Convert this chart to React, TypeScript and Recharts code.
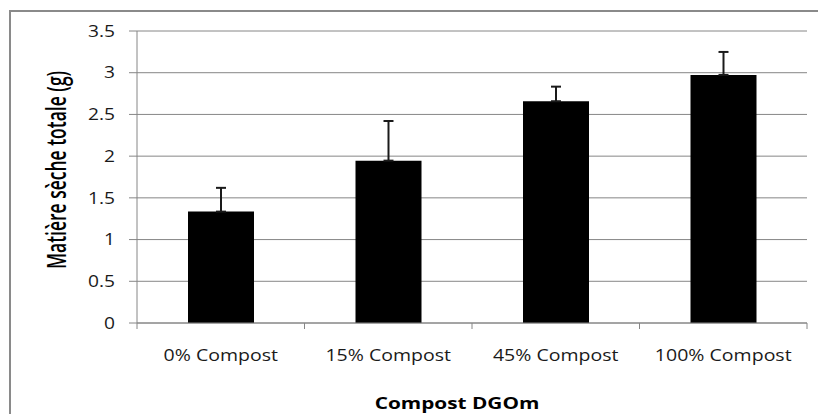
import React from 'react';
import { BarChart, Bar, XAxis, YAxis, CartesianGrid, ErrorBar } from 'recharts';

const categories = ['0% Compost', '15% Compost', '45% Compost', '100% Compost'];
const means = [1.335, 1.946, 2.658, 2.974];
const errors = [0.285, 0.475, 0.175, 0.275];
const yTicks = [0, 0.5, 1, 1.5, 2, 2.5, 3, 3.5];
const yTitle = 'Matière sèche totale (g)';
const xTitle = 'Compost DGOm';

const data = categories.map((c, i) => ({ name: c, value: means[i], err: [0, errors[i]] }));

const FONT = '"Open Sans", "DejaVu Sans", sans-serif';
const GRID = '#868686';
const W = 818;
const H = 414;

const XTick = (props: any) => {
  const { x, y, payload, index, width } = props;
  const n = categories.length;
  const half = typeof payload.offset === 'number' && payload.offset > 0 ? payload.offset : width / n / 2;
  return (
    <g>
      <line x1={x - half} x2={x - half} y1={y - 6} y2={y} stroke={GRID} strokeWidth={1} />
      {index === n - 1 && <line x1={x + half} x2={x + half} y1={y - 6} y2={y} stroke={GRID} strokeWidth={1} />}
      <text
        transform={`translate(${x},${y + 32}) scale(1.26,1)`}
        textAnchor="middle"
        fontSize={15.5}
        fontFamily={FONT}
        fill="#1a1a1a"
      >
        {payload.value}
      </text>
    </g>
  );
};

const YTick = (props: any) => {
  const { x, y, payload } = props;
  return (
    <text
      transform={`translate(${x},${y}) scale(1.2,1)`}
      textAnchor="end"
      dy="0.36em"
      fontSize={16}
      fontFamily={FONT}
      fill="#1a1a1a"
    >
      {payload.value}
    </text>
  );
};

export default function App() {
  return (
    <div style={{ position: 'absolute', left: 0, top: 0, width: W, height: H, background: '#fff' }}>
      <BarChart width={W} height={H} data={data} margin={{ top: 31, right: 11, bottom: 0, left: 0 }} barSize={66}>
        <CartesianGrid vertical={false} stroke={GRID} strokeWidth={1} />
        <XAxis
          dataKey="name"
          height={91}
          tickLine={false}
          tickSize={6}
          tickMargin={0}
          axisLine={{ stroke: GRID, strokeWidth: 1 }}
          tick={<XTick />}
          interval={0}
        />
        <YAxis
          width={137}
          domain={[0, 3.5]}
          ticks={yTicks}
          tickSize={8}
          tickMargin={14}
          tickLine={{ stroke: GRID }}
          axisLine={{ stroke: GRID, strokeWidth: 1 }}
          tick={<YTick />}
          interval={0}
        />
        <Bar dataKey="value" fill="#000" isAnimationActive={false}>
          <ErrorBar dataKey="err" direction="y" width={5} stroke="#1a1a1a" strokeWidth={2} />
        </Bar>
      </BarChart>
      <svg width={W} height={H} style={{ position: 'absolute', left: 0, top: 0, pointerEvents: 'none' }}>
        <rect x={10} y={11} width={W} height={H} fill="none" stroke="#8a8a8a" strokeWidth={2} />
        <text
          transform={`translate(${66},${170}) rotate(-90) scale(1,1.5)`}
          textAnchor="middle"
          fontSize={17.5}
          fontWeight={600}
          fontFamily={FONT}
          fill="#000"
        >
          {yTitle}
        </text>
        <text
          transform={`translate(${457},${409}) scale(1.3,1)`}
          textAnchor="middle"
          fontSize={16}
          fontWeight={700}
          fontFamily={FONT}
          fill="#000"
        >
          {xTitle}
        </text>
      </svg>
    </div>
  );
}
